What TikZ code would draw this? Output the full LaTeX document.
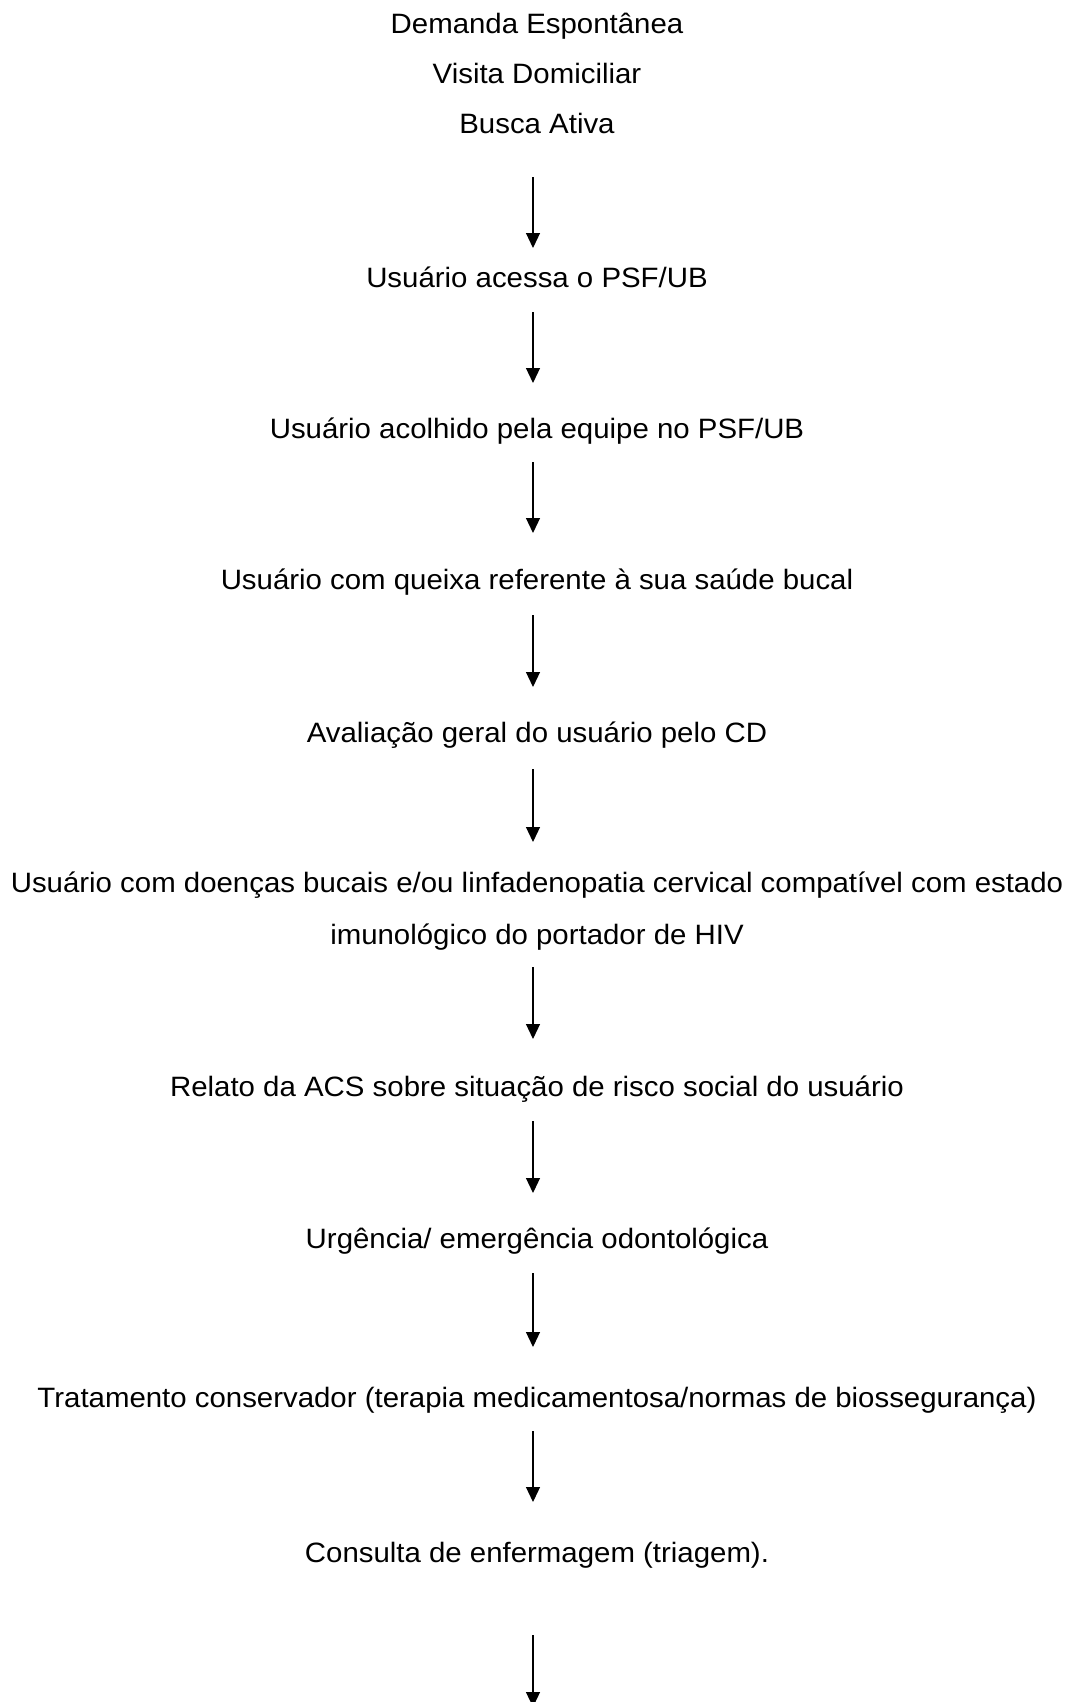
\documentclass[tikz,border=0pt]{standalone}
\usepackage{fontspec}
\setmainfont[FakeStretch=1.05]{Liberation Sans}
\usetikzlibrary{arrows.meta}
\begin{document}
\begin{tikzpicture}[x=1pt,y=-1pt,
  lbl/.style={anchor=base,inner sep=0pt,align=center,font=\fontsize{28pt}{51.5pt}\selectfont},
  arr/.style={-{Triangle[width=14pt,length=15pt]},line width=1.2pt}]
\useasboundingbox[fill=white] (0,0) rectangle (1074,1702);
\clip (0,0) rectangle (1074,1702);
\node[lbl] (dem) at (537,33.3) {Demanda Espontânea};
\node[lbl] (vis) at (537,83.3) {Visita Domiciliar};
\node[lbl] (bus) at (537,133.3) {Busca Ativa};
\node[lbl] (ace) at (537,287) {Usuário acessa o PSF/UB};
\node[lbl] (aco) at (537,438) {Usuário acolhido pela equipe no PSF/UB};
\node[lbl] (que) at (537,589) {Usuário com queixa referente à sua saúde bucal};
\node[lbl] (ava) at (537,742) {Avaliação geral do usuário pelo CD};
\node[lbl] (hiv) at (537,944) {Usuário com doenças bucais e/ou linfadenopatia cervical compatível com estado\\imunológico do portador de HIV};
\node[lbl] (rel) at (537,1096) {Relato da ACS sobre situação de risco social do usuário};
\node[lbl] (urg) at (537,1248) {Urgência/ emergência odontológica};
\node[lbl] (tra) at (537,1407) {Tratamento conservador (terapia medicamentosa/normas de biossegurança)};
\node[lbl] (con) at (537,1562) {Consulta de enfermagem (triagem).};
\coordinate (fim) at (533,1707);
\draw[arr] ([xshift=-4pt,yshift=-43.7pt]bus.base) -- ([xshift=-4pt,yshift=39pt]ace.base);
\draw[arr] ([xshift=-4pt,yshift=-25pt]ace.base) -- ([xshift=-4pt,yshift=55pt]aco.base);
\draw[arr] ([xshift=-4pt,yshift=-24pt]aco.base) -- ([xshift=-4pt,yshift=56pt]que.base);
\draw[arr] ([xshift=-4pt,yshift=-26pt]que.base) -- ([xshift=-4pt,yshift=55pt]ava.base);
\draw[arr] ([xshift=-4pt,yshift=-27pt]ava.base) -- ([xshift=-4pt,yshift=102pt]hiv.base);
\draw[arr] ([xshift=-4pt,yshift=-23pt]hiv.base) -- ([xshift=-4pt,yshift=57pt]rel.base);
\draw[arr] ([xshift=-4pt,yshift=-25pt]rel.base) -- ([xshift=-4pt,yshift=55pt]urg.base);
\draw[arr] ([xshift=-4pt,yshift=-25pt]urg.base) -- ([xshift=-4pt,yshift=60pt]tra.base);
\draw[arr] ([xshift=-4pt,yshift=-24pt]tra.base) -- ([xshift=-4pt,yshift=60pt]con.base);
\draw[arr] ([xshift=-4pt,yshift=-73pt]con.base) -- (fim);
\end{tikzpicture}
\end{document}
